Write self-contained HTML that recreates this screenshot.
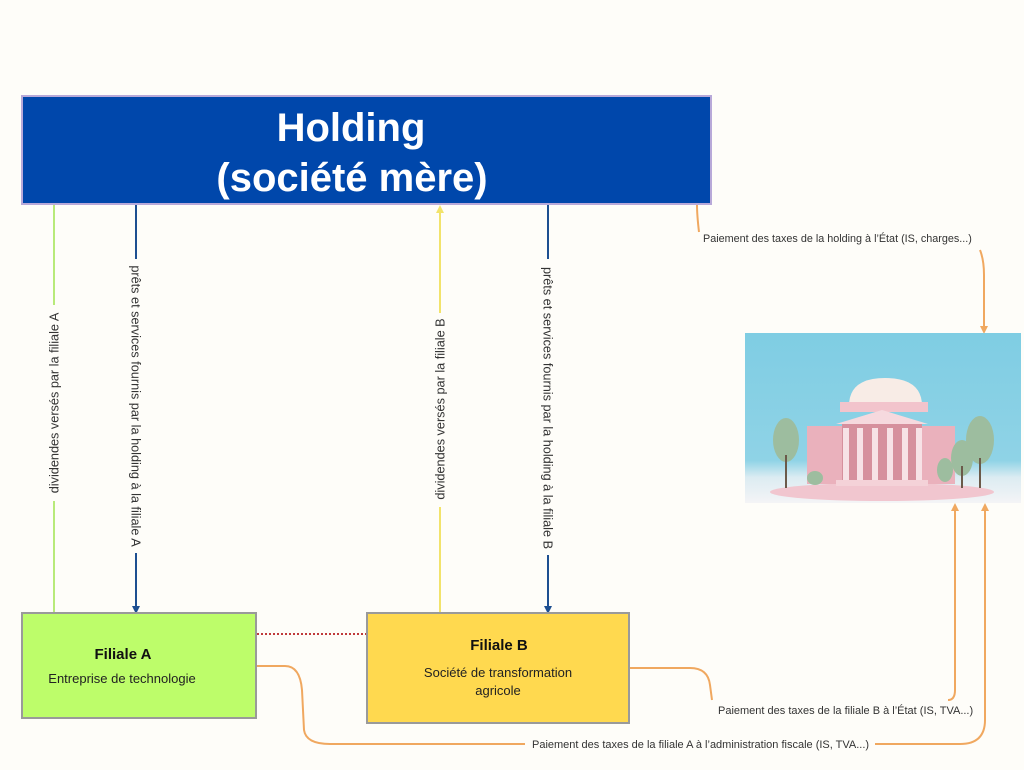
<!DOCTYPE html>
<html><head><meta charset="utf-8"><style>
html,body{margin:0;padding:0;background:#fefdf9;}
svg{display:block;font-family:"Liberation Sans",sans-serif;}
</style></head><body>
<svg width="1024" height="770" viewBox="0 0 1024 770" xmlns="http://www.w3.org/2000/svg">
<defs>
<linearGradient id="sky" x1="0" y1="0" x2="0" y2="1">
<stop offset="0" stop-color="#7fcde3"/><stop offset="0.75" stop-color="#8fd3e6"/><stop offset="0.85" stop-color="#dcecf2"/><stop offset="1" stop-color="#f4f4f6"/>
</linearGradient>
<marker id="ab" markerWidth="8" markerHeight="8" refX="4" refY="4" orient="auto" markerUnits="userSpaceOnUse"><path d="M0,0 L8,4 L0,8 z" fill="#1d4f91"/></marker>
<marker id="ay" markerWidth="8" markerHeight="8" refX="4" refY="4" orient="auto" markerUnits="userSpaceOnUse"><path d="M0,0 L8,4 L0,8 z" fill="#f2e36b"/></marker>
<marker id="ao" markerWidth="8" markerHeight="8" refX="4" refY="4" orient="auto" markerUnits="userSpaceOnUse"><path d="M0,0 L8,4 L0,8 z" fill="#f0a860"/></marker>
</defs>
<rect width="1024" height="770" fill="#fefdf9"/>

<!-- Holding -->
<rect x="22" y="96" width="689" height="108" fill="#0047ab" stroke="#b8a9d9" stroke-width="2"/>
<text x="351" y="141" text-anchor="middle" fill="#fff" font-size="40" font-weight="bold">Holding</text>
<text x="352" y="191" text-anchor="middle" fill="#fff" font-size="40" font-weight="bold">(société mère)</text>

<!-- vertical lines -->
<line x1="54" y1="205" x2="54" y2="613" stroke="#b8ea7a" stroke-width="2"/>
<line x1="136" y1="205" x2="136" y2="610" stroke="#1d4f91" stroke-width="2" marker-end="url(#ab)"/>
<line x1="440" y1="613" x2="440" y2="209" stroke="#f2e36b" stroke-width="2" marker-end="url(#ay)"/>
<line x1="548" y1="205" x2="548" y2="610" stroke="#1d4f91" stroke-width="2" marker-end="url(#ab)"/>

<g font-size="12.7" fill="#333">
<rect x="46" y="305" width="16" height="196" fill="#fefdf9"/>
<text transform="translate(58.5,403) rotate(-90)" text-anchor="middle">dividendes versés par la filiale A</text>
<rect x="128" y="259" width="16" height="294" fill="#fefdf9"/>
<text transform="translate(131.5,406) rotate(90)" text-anchor="middle">prêts et services fournis par la holding à la filiale A</text>
<rect x="432" y="313" width="16" height="194" fill="#fefdf9"/>
<text transform="translate(444.5,409) rotate(-90)" text-anchor="middle">dividendes versés par la filiale B</text>
<rect x="540" y="259" width="16" height="296" fill="#fefdf9"/>
<text transform="translate(543.5,408) rotate(90)" text-anchor="middle">prêts et services fournis par la holding à la filiale B</text>
</g>

<!-- orange connectors -->
<g fill="none" stroke="#f0a860" stroke-width="2">
<path d="M697,205 Q697,215 699,232"/>
<path d="M980,250 Q984,260 984,275 L984,330" marker-end="url(#ao)"/>
<path d="M257,666 L285,666 Q300,666 302,690 L304,730 Q306,744 330,744 L525,744"/>
<path d="M875,744 L960,744 Q985,744 985,720 L985,507" marker-end="url(#ao)"/>
<path d="M630,668 L690,668 Q708,668 710,685 L712,700"/>
<path d="M948,700 Q955,700 955,690 L955,507" marker-end="url(#ao)"/>
</g>
<g fill="#333">
<text x="703" y="242" font-size="10.8">Paiement des taxes de la holding à l’État (IS, charges...)</text>
<text x="718" y="714" font-size="11">Paiement des taxes de la filiale B à l’État (IS, TVA...)</text>
<text x="532" y="748" font-size="11">Paiement des taxes  de la filiale A à l’administration fiscale (IS, TVA...)</text>
</g>

<!-- dotted red -->
<line x1="257" y1="634" x2="366" y2="634" stroke="#c0393b" stroke-width="2" stroke-dasharray="2,2"/>

<!-- Filiale A -->
<rect x="22" y="613" width="234" height="105" fill="#bdfd6a" stroke="#9a9a9a" stroke-width="2"/>
<text x="123" y="659" text-anchor="middle" font-size="15" font-weight="bold" fill="#111">Filiale A</text>
<text x="122" y="683" text-anchor="middle" font-size="13" fill="#222">Entreprise de technologie</text>

<!-- Filiale B -->
<rect x="367" y="613" width="262" height="110" fill="#ffd94f" stroke="#9a9a9a" stroke-width="2"/>
<text x="499" y="650" text-anchor="middle" font-size="15" font-weight="bold" fill="#111">Filiale B</text>
<text x="498" y="677" text-anchor="middle" font-size="13" fill="#222">Société de transformation</text>
<text x="498" y="695" text-anchor="middle" font-size="13" fill="#222">agricole</text>

<!-- State image -->
<rect x="745" y="333" width="276" height="170" fill="url(#sky)"/>
<ellipse cx="882" cy="492" rx="112" ry="9" fill="#f1c6cf"/>
<rect x="807" y="426" width="148" height="58" fill="#eab1bc"/>
<path d="M849,406 Q849,378 885,378 Q922,378 922,406 Z" fill="#f8ece6"/>
<rect x="840" y="402" width="88" height="10" fill="#f2c4cc"/>
<polygon points="836,424 882,410 928,424" fill="#f6d9de"/>
<rect x="842" y="424" width="80" height="60" fill="#d6909d"/>
<g fill="#f7e2e6">
<rect x="843" y="428" width="6" height="56"/><rect x="857" y="428" width="6" height="56"/><rect x="872" y="428" width="6" height="56"/><rect x="887" y="428" width="6" height="56"/><rect x="902" y="428" width="6" height="56"/><rect x="916" y="428" width="6" height="56"/>
</g>
<rect x="836" y="480" width="92" height="6" fill="#f4d2d8"/>
<g fill="#9dbd9f">
<ellipse cx="786" cy="440" rx="13" ry="22"/><ellipse cx="980" cy="440" rx="14" ry="24"/><ellipse cx="962" cy="458" rx="11" ry="18"/><ellipse cx="815" cy="478" rx="8" ry="7"/><ellipse cx="945" cy="470" rx="8" ry="12"/>
</g>
<g stroke="#6b5a4a" stroke-width="2"><line x1="786" y1="455" x2="786" y2="488"/><line x1="980" y1="458" x2="980" y2="488"/><line x1="962" y1="466" x2="962" y2="488"/></g>
</svg>
</body></html>
